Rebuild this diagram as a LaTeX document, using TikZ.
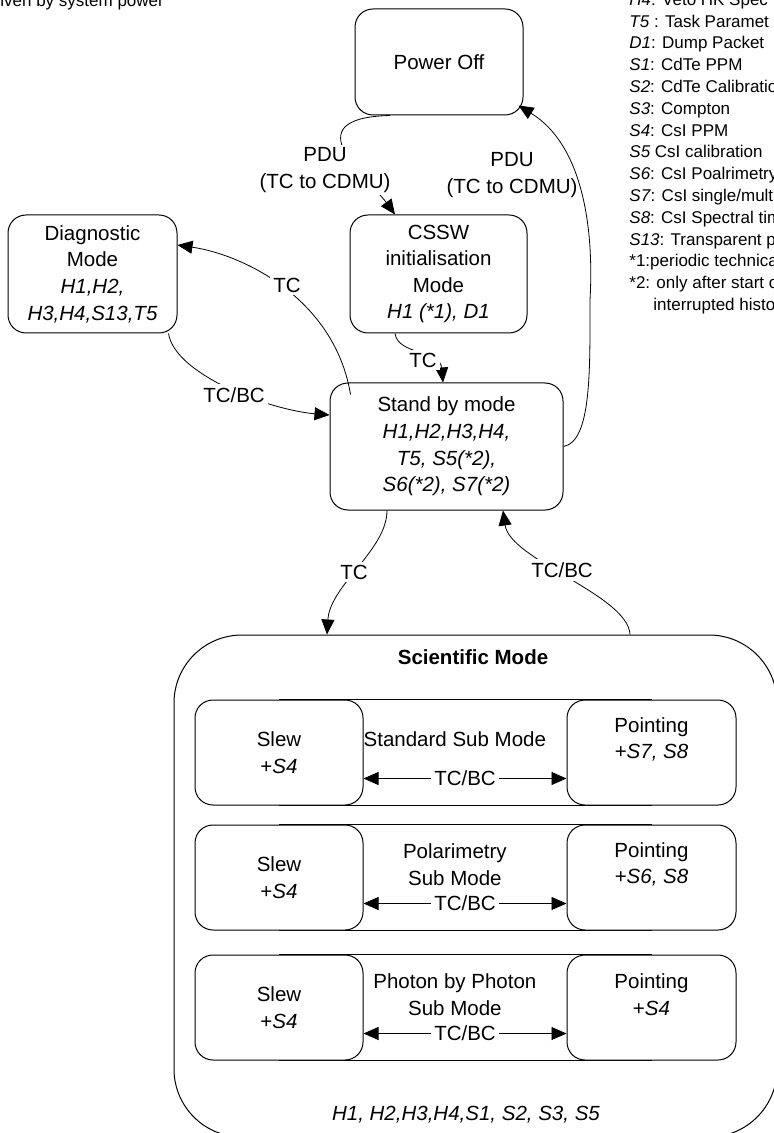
\documentclass[tikz,border=0pt]{standalone}
\usepackage{fontspec}
\setmainfont{Liberation Sans}
\usepackage{tikz}
\usetikzlibrary{arrows.meta,calc,backgrounds}
\newcommand\bxfont{\fontsize{10.25}{13.3}\selectfont}
\newcommand\lgfont{\fontsize{8.5}{10.9}\selectfont}
\tikzset{
  modebox/.style={draw,line width=0.5pt,rounded corners=9pt,fill=white,align=center,font=\bxfont,inner sep=0pt},
  txt/.style={align=center,font=\bxfont,inner sep=0pt},
  lbl/.style={fill=white,align=center,font=\bxfont,inner sep=1.5pt},
  leg/.style={font=\lgfont,anchor=base west,inner sep=0pt},
  conn/.style={line width=0.4pt},
  arr/.style={conn,-{Triangle[length=7.5pt,width=6.5pt]}},
  dblarr/.style={conn,{Triangle[length=7.5pt,width=6.5pt]}-{Triangle[length=7.5pt,width=6.5pt]}},
}

\begin{document}
\begin{tikzpicture}[x=0.5pt,y=-0.5pt]
  \useasboundingbox (0,0) rectangle (774,1133);
  \clip (0,0) rectangle (774,1133);

  % mode boxes
  \node[modebox,minimum width=84pt,minimum height=53pt] (poff) at (439,62) {Power Off};
  \node[modebox,minimum width=88.5pt,minimum height=59pt] (cssw) at (438.5,274)
    {CSSW\\initialisation\\Mode\\\textit{H1 (*1), D1}};
  \node[modebox,minimum width=84.5pt,minimum height=59pt] (diag) at (92.5,274)
    {Diagnostic\\Mode\\\textit{H1,H2,}\\\textit{H3,H4,S13,T5}};
  \node[modebox,minimum width=116.5pt,minimum height=63.5pt] (stby) at (446.5,446.5)
    {Stand by mode\\\textit{H1,H2,H3,H4,}\\\textit{T5, S5(*2),}\\\textit{S6(*2), S7(*2)}};

  % scientific mode and its sub modes
  \node[draw,line width=0.5pt,rounded corners=34pt,minimum width=301.5pt,minimum height=251pt] (sci) at (475.5,886) {};
  \node[txt,font=\bxfont\bfseries] (scititle) at (473,657) {Scientific Mode};
  \node[txt] (scilist) at (466,1115) {\textit{H1, H2,H3,H4,S1, S2, S3, S5}};
  \foreach \rw/\yy/\pp/\ss in {1/752.5/{S7, S8}/{Standard Sub Mode},
                               2/877.5/{S6, S8}/{Polarimetry\\Sub Mode},
                               3/1007.5/S4/{Photon by Photon\\Sub Mode}} {
    \node[modebox,minimum width=84pt,minimum height=52.5pt] (slew\rw) at (279,\yy) {Slew\\+\textit{S4}};
    \node[modebox,minimum width=84.5pt,minimum height=52.5pt] (pnt\rw) at (651.5,\yy) {};
    \node[txt] (pnttxt\rw) at ($(pnt\rw)+(0,-13)$) {Pointing\\+\textit{\pp}};
    \node[txt] (sub\rw) at ($(slew\rw.east)!0.45!(pnt\rw.west)+(0,-13)$) {\ss};
    \draw[dblarr] ($(slew\rw.east)+(0,26)$) -- ($(pnt\rw.west)+(0,26)$)
      node[lbl,midway] (subtc\rw) {TC/BC};
    \begin{scope}[on background layer]
      \draw[line width=0.5pt] (slew\rw.north) rectangle (pnt\rw.south);
    \end{scope}
  }

  % transitions
  \draw[arr] ($(poff.south)+(-49,0)$) .. controls (290,118) and (370,180) .. ($(cssw.north)+(-43.5,0)$);
  \draw[arr] (stby.east) .. controls +(28,-5) and +(0,70) .. (590,300)
    .. controls +(4,-70) and +(65,40) .. ($(poff.south east)+(-5,-10)$);
  \draw[arr] ($(stby.north west)+(21,12)$) .. controls (335,300) and (245,255) .. ($(diag.east)+(0,-29)$);
  \draw[arr] ($(diag.south east)+(-9,0)$) .. controls (175,375) and (270,410) .. ($(stby.west)+(0,-31.5)$);
  \draw[arr] ($(cssw.south)+(-43.5,0)$) .. controls (398,355) and (440,350) .. ($(stby.north)+(-3.5,0)$);
  \draw[arr] ($(stby.south)+(-59.5,0)$) .. controls (387,550) and (330,585) .. ($(sci.north)+(-148.5,0)$);
  \draw[arr] ($(sci.north)+(154.5,0)$) .. controls (628,595) and (510,560) .. ($(stby.south)+(56.5,0)$);

  % transition labels
  \node[lbl] (pdua) at (325,170) {PDU\\(TC to CDMU)};
  \node[txt] (pdub) at (512,175) {PDU\\(TC to CDMU)};
  \node[lbl] (tca) at (287,285) {TC};
  \node[lbl] (tcbca) at (234,395) {TC/BC};
  \node[lbl] (tcb) at (423,360) {TC};
  \node[lbl] (tcc) at (354,572) {TC};
  \node[lbl] (tcbcb) at (562,570) {TC/BC};

  % legend
  \node[leg] (drv) at (0,6.5) {iven by system power};
  \foreach \lab [count=\i from 0] in {{\textit{H4}: Veto HK Spec},{\textit{T5} : Task Paramet},
      {\textit{D1}: Dump Packet},{\textit{S1}: CdTe PPM},{\textit{S2}: CdTe Calibratio},
      {\textit{S3}: Compton},{\textit{S4}: CsI PPM},{\textit{S5} CsI calibration},
      {\textit{S6}: CsI Poalrimetry},{\textit{S7}: CsI single/mult},{\textit{S8}: CsI Spectral tim},
      {\textit{S13}: Transparent p},{*1:periodic technica},{*2: only after start o}}
    \node[leg] (leg\i) at (629,5.4+21.8*\i) {\lab};
  \node[leg] (leg14) at (653,310.6) {interrupted histo};
\end{tikzpicture}
\end{document}
